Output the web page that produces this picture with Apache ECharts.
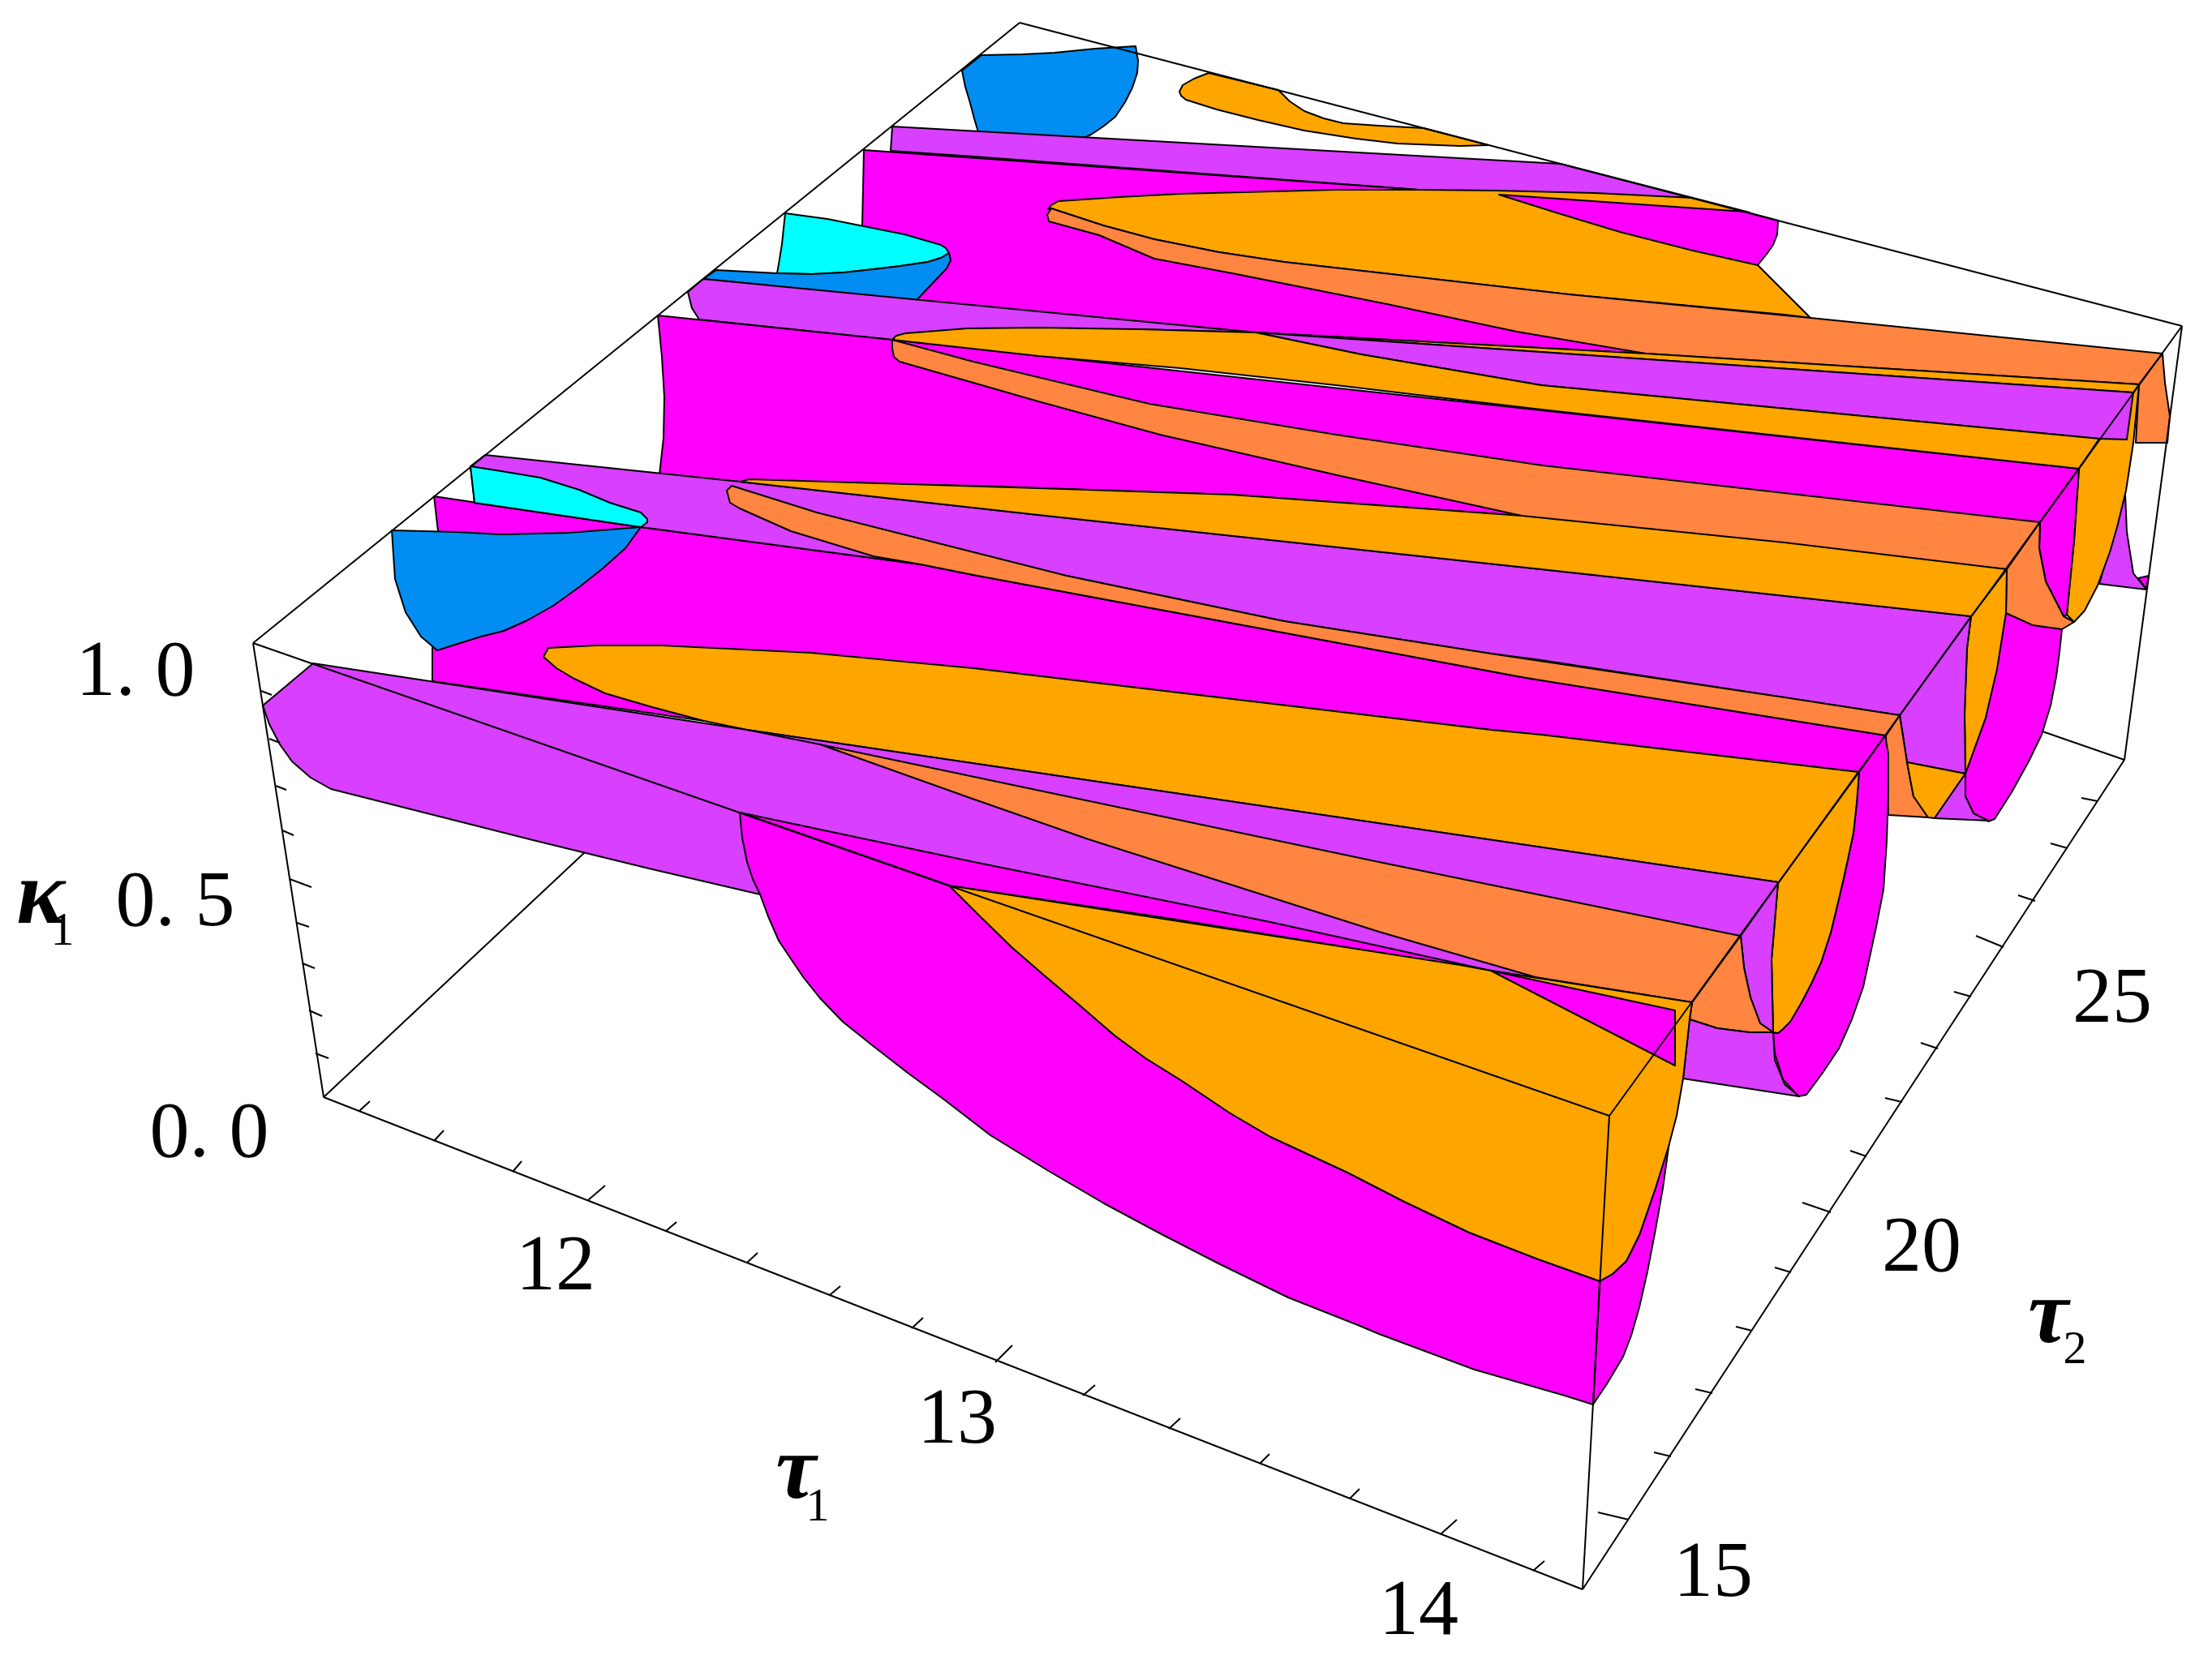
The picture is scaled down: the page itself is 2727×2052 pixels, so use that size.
<!DOCTYPE html>
<html>
<head>
<meta charset="utf-8">
<style>html,body{margin:0;padding:0;background:#fff}#c{width:2727px;height:2052px}</style>
<script src="https://cdn.jsdelivr.net/npm/echarts@6/dist/echarts.min.js"></script>
</head>
<body>
<div id="c"></div>
<script>
// Region outlines in the plane of the projected box.
const blueBack = [[1210,68],[1260,67],[1300,65],[1350,60],[1400,57],[1403,75],[1402,90],[1396,108],[1387,126],[1375,144],[1360,156],[1345,166],[1334,171],[1206,163],[1201,146],[1196,127],[1190,107],[1186,87]];
const orangeBack = [[1454,113],[1458,105],[1472,97],[1490,90],[1576,111],[1590,125],[1608,137],[1632,146],[1656,152],[1700,155],[1755,158],[1835,179],[1800,180],[1774,179],[1723,177],[1672,171],[1640,166],[1608,161],[1551,148],[1500,135],[1462,123],[1456,118]];
const purpleBack = [[1100,156],[1924,202],[2087,244],[1749,234],[1200,193],[1098,186]];
const magentaRow2 = [[1065,185],[1749,234],[1900,300],[2029,436],[1548,410],[1129,370],[1063,278]];
const cyanRear = [[968,263],[1020,270],[1065,279],[1115,289],[1160,302],[1166,306],[1170,312],[1160,318],[1144,323],[1110,328],[1077,332],[1040,336],[1001,338],[958,337],[961,320],[964,301]];
const blueMid = [[883,333],[958,337],[1001,338],[1040,336],[1077,332],[1110,328],[1144,323],[1160,318],[1170,312],[1172,321],[1167,331],[1130,370],[867,344]];
const orangeRow2 = [[1292,258],[1296,253],[1305,248],[1380,243],[1455,239],[1647,234],[1749,234],[1844,235],[1966,238],[2087,244],[2157,262],[2167,327],[2200,360],[2232,392],[2200,388],[1934,363],[1583,323],[1503,311],[1423,295],[1360,278],[1296,257]];
const magentaPatch = [[1848,240],[2151,261],[2192,272],[2191,289],[2186,302],[2179,312],[2167,327],[2087,309],[1997,286],[1921,263]];
const coralRow2 = [[1296,257],[1360,278],[1423,295],[1503,311],[1583,323],[1934,363],[2232,392],[2666,436],[2637,474],[2029,436],[1870,409],[1710,375],[1519,337],[1423,319],[1355,290],[1293,273],[1291,265]];
const coralSideRear = [[2666,436],[2669,472],[2675,513],[2672,546],[2633,546],[2637,474]];
const purpleSideRear = [[2620,610],[2622,656],[2630,707],[2646,727],[2588,720]];
const magentaSideTiny = [[2636,713],[2649,710],[2646,726]];
const orangeSideRear = [[2637,474],[2630,546],[2621,605],[2610,650],[2601,681],[2586,722],[2570,753],[2557,767],[2548,758],[2557,666],[2563,578]];
const orangeThin = [[1548,410],[2029,436],[2637,474],[2630,484]];
const purpleRow3 = [[1548,410],[2630,484],[2622,542],[2588,541],[1900,475],[1819,461],[1678,437]];
const purpleRow3Left = [[867,344],[1548,410],[1404,406],[1100,419],[862,394],[853,380],[848,360]];
const orangeRow3 = [[1100,419],[1105,414],[1116,411],[1192,405],[1280,404],[1404,406],[1548,410],[1678,437],[1819,461],[1900,475],[2588,541],[2563,578],[1900,505],[1647,475],[1455,454],[1280,439]];
const magentaRow3 = [[811,389],[1100,419],[2563,578],[2515,644],[1876,636],[1519,610],[1200,599],[912,594],[813,585],[818,540],[819,490],[816,440]];
const magentaSideRow3 = [[2563,578],[2515,644],[2514,676],[2522,717],[2544,760],[2548,758],[2557,666]];
const coralRow3 = [[1100,419],[1200,446],[1417,498],[1647,536],[1902,574],[2515,644],[2474,702],[1900,641],[1876,636],[1653,587],[1430,536],[1280,495],[1200,472],[1109,446],[1102,440],[1100,430]];
const coralSideRow3 = [[2515,644],[2474,702],[2473,756],[2506,771],[2542,776],[2557,767],[2544,760],[2522,717],[2514,676]];
const magentaSideLarge = [[2473,756],[2542,776],[2539,804],[2535,834],[2528,870],[2517,906],[2501,939],[2480,977],[2459,1010],[2451,1013],[2433,1003],[2423,982],[2423,954],[2448,885]];
const orangeSideRow4 = [[2474,702],[2473,756],[2462,825],[2448,885],[2423,954],[2422,880],[2425,799],[2430,760]];
const purpleSideRow4 = [[2430,760],[2425,799],[2422,880],[2423,954],[2351,940],[2342,882]];
const coralSideRow4 = [[2342,882],[2325,907],[2328,1005],[2377,1008],[2359,982],[2351,940]];
const orangeSideSmall = [[2351,940],[2423,954],[2385,1009],[2377,1008],[2359,982]];
const purpleSideSmall = [[2423,954],[2423,982],[2433,1003],[2451,1012],[2385,1009]];
const magentaRow4 = [[535,612],[790,650],[1135,696],[1200,709],[1876,835],[2325,907],[2291,952],[1900,906],[1838,900],[1200,824],[868,889],[533,840],[533,801],[540,655]];
const blueFront = [[483,654],[561,656],[618,659],[701,657],[790,650],[771,676],[743,701],[714,724],[682,747],[650,765],[621,778],[593,785],[561,795],[539,802],[519,785],[500,755],[487,714]];
const purpleRow4 = [[598,561],[912,594],[1280,635],[1900,702],[2430,760],[2342,882],[1900,814],[1838,806],[1583,766],[1315,710],[1135,696],[790,650],[585,620],[580,575]];
const cyanFront = [[580,575],[618,581],[666,589],[714,604],[752,620],[790,632],[798,640],[798,644],[790,650],[585,620]];
const orangeRow4 = [[912,594],[924,591],[1280,602],[1519,610],[1876,636],[2200,669],[2474,702],[2430,760],[1900,702],[1280,635]];
const coralRow4 = [[902,599],[1007,632],[1315,710],[1583,766],[1838,806],[2200,860],[2342,882],[2325,907],[1900,839],[1876,835],[1200,709],[1135,696],[1077,686],[975,655],[912,627],[900,620],[896,605]];
const orangeRow5 = [[676,799],[670,810],[686,824],[708,837],[746,855],[804,872],[868,889],[921,900],[1800,1030],[2193,1088],[2291,952],[1900,906],[1838,900],[1200,824],[1000,805],[817,796],[734,796]];
const magentaSideRight = [[2324,907],[2328,930],[2328,973],[2326,1037],[2322,1097],[2313,1143],[2297,1217],[2283,1257],[2267,1293],[2247,1323],[2227,1350],[2217,1352],[2198,1331],[2188,1299],[2186,1274],[2192,1274],[2198,1269],[2220,1238],[2233,1213],[2245,1187],[2257,1150],[2265,1117],[2273,1083],[2278,1060],[2285,1027],[2289,990],[2292,952]];
const orangeSideFrontMid = [[2292,952],[2289,990],[2285,1027],[2278,1060],[2273,1083],[2265,1117],[2257,1150],[2245,1187],[2233,1213],[2220,1238],[2207,1260],[2198,1269],[2192,1274],[2186,1273],[2184,1183],[2192,1089]];
const purpleSideMid = [[2192,1089],[2184,1183],[2186,1273],[2170,1262],[2158,1230],[2150,1193],[2146,1154]];
const coralSideMid = [[2146,1154],[2086,1236],[2083,1257],[2117,1268],[2157,1273],[2186,1273],[2170,1262],[2158,1230],[2150,1193]];
const purpleSideLow = [[2083,1257],[2075,1330],[2218,1352],[2200,1337],[2188,1307],[2186,1273],[2157,1273],[2117,1268]];
const purpleFront = [[386,818],[921,900],[1800,1030],[2193,1088],[2145,1154],[2086,1236],[1838,1197],[1170,1092],[937,1103],[800,1071],[657,1036],[408,973],[383,959],[360,939],[345,918],[332,893],[324,870]];
const coralFront = [[1011,918],[1700,1063],[2145,1154],[2086,1236],[1893,1205],[1700,1149],[1502,1086],[1342,1035],[1196,984]];
const magentaStrip = [[912,1002],[1196,1062],[1566,1137],[1838,1197],[1438,1132],[1170,1092]];
const magentaSideFront = [[1972,1580],[1988,1571],[2005,1555],[2021,1523],[2041,1465],[2058,1408],[2050,1465],[2041,1516],[2031,1568],[2021,1612],[2011,1647],[2001,1673],[1982,1705],[1964,1732]];
const orangeFront = [[1170,1092],[1800,1190],[1838,1197],[2086,1236],[2083,1257],[2075,1330],[2067,1376],[2057,1414],[2041,1465],[2021,1523],[2005,1555],[1988,1571],[1972,1580],[1896,1553],[1811,1520],[1731,1482],[1661,1446],[1566,1402],[1515,1372],[1457,1333],[1412,1305],[1374,1277],[1330,1239],[1285,1201],[1247,1168],[1208,1130]];
const magentaWedge = [[1838,1197],[2065,1246],[2065,1314]];
const magentaFront = [[912,1002],[1170,1092],[1208,1130],[1247,1168],[1285,1201],[1330,1239],[1374,1277],[1412,1305],[1457,1333],[1515,1372],[1566,1402],[1661,1446],[1731,1482],[1811,1520],[1896,1553],[1972,1580],[1964,1732],[1929,1721],[1818,1689],[1700,1645],[1674,1634],[1588,1600],[1502,1558],[1432,1522],[1361,1484],[1291,1443],[1221,1400],[1164,1356],[1119,1323],[1074,1288],[1039,1260],[1011,1231],[991,1206],[972,1178],[960,1160],[947,1130],[937,1103],[928,1084],[921,1063],[915,1033]];

// Box corners
const boxA = [312,793], boxB = [1257,28], boxC = [2690,402], boxD = [1984,1376];
const boxE = [399,1353], boxF = [1951,1960], boxG = [2619,937];
const boxEdges = [[boxE,[721,1051]],[boxG,[2518,902]],[boxA,boxB],[boxB,boxC],[boxA,boxD],[boxD,boxC],[boxA,boxE],[boxE,boxF],[boxF,boxG],[boxC,boxG],[boxD,boxF],[[921,900],[1011,918]]];

// Tick marks on the three visible axes
const kappaTicks = [[[322,852],[335,857]],[[332,911],[345,916]],[[340,969],[353,974]],[[348,1024],[362,1030]],[[357,1084],[384,1094]],[[366,1138],[381,1143]],[[373,1188],[388,1194]],[[381,1246],[397,1253]],[[389,1299],[405,1305]]];
const tau1Ticks = [[[443,1370],[456,1358]],[[535,1407],[547,1394]],[[632,1445],[643,1432]],[[725,1480],[746,1462]],[[821,1518],[834,1507]],[[921,1557],[934,1545]],[[1023,1597],[1036,1586]],[[1124,1638],[1138,1625]],[[1227,1680],[1248,1659]],[[1335,1721],[1350,1708]],[[1441,1762],[1455,1749]],[[1553,1805],[1565,1793]],[[1664,1848],[1676,1836]],[[1776,1892],[1796,1874]],[[1890,1937],[1904,1925]]];
const tau2Ticks = [[[2008,1874],[1970,1865]],[[2060,1796],[2039,1791]],[[2111,1718],[2090,1713]],[[2160,1641],[2140,1636]],[[2208,1569],[2188,1563]],[[2257,1495],[2222,1483]],[[2301,1426],[2281,1419]],[[2345,1359],[2324,1354]],[[2389,1293],[2368,1286]],[[2430,1229],[2409,1223]],[[2470,1168],[2436,1154]],[[2509,1111],[2488,1104]],[[2549,1046],[2528,1040]],[[2586,988],[2566,984]]];

// Tick labels and axis names
const tickLabels = ['1. 0','0. 5','0. 0','12','13','14','15','20','25'];
const tickLabelAnchors = [[167,861],[216,1145],[258,1430],[685,1594],[1180,1783],[1749,2019],[2112,1972],[2369,1571],[2604,1264]];
const axisNames = ['κ','τ','τ'];
const axisNameAnchors = [[50,1143],[981,1852],[2525,1660]];
const axisSubscripts = ['1','1','2'];
const axisSubscriptAnchors = [[77,1167],[1008,1877],[2558,1683]];

const PURPLE='#D83FFF', MAGENTA='#FF00FF', ORANGE='#FFA500', CORAL='#FF8540', BLUE='#028DF2', CYAN='#00FFFF';
const layers = [
 [blueBack,BLUE],[orangeBack,ORANGE],[purpleBack,PURPLE],[magentaRow2,MAGENTA],[cyanRear,CYAN],[blueMid,BLUE],
 [orangeRow2,ORANGE],[magentaPatch,MAGENTA],[coralRow2,CORAL],[coralSideRear,CORAL],[purpleSideRear,PURPLE],[magentaSideTiny,MAGENTA],
 [orangeSideRear,ORANGE],[orangeThin,ORANGE],[purpleRow3,PURPLE],[purpleRow3Left,PURPLE],[magentaRow3,MAGENTA],[orangeRow3,ORANGE],
 [magentaSideRow3,MAGENTA],[coralRow3,CORAL],[magentaSideLarge,MAGENTA],[coralSideRow3,CORAL],[orangeSideRow4,ORANGE],[purpleSideRow4,PURPLE],
 [coralSideRow4,CORAL],[orangeSideSmall,ORANGE],[purpleSideSmall,PURPLE],[magentaRow4,MAGENTA],[blueFront,BLUE],[purpleRow4,PURPLE],[cyanFront,CYAN],
 [orangeRow4,ORANGE],[coralRow4,CORAL],[magentaSideRight,MAGENTA],[orangeSideFrontMid,ORANGE],[purpleSideMid,PURPLE],[coralSideMid,CORAL],[purpleSideLow,PURPLE],
 [orangeRow5,ORANGE],[purpleFront,PURPLE],[coralFront,CORAL],[magentaStrip,MAGENTA],[magentaSideFront,MAGENTA],[orangeFront,ORANGE],[magentaWedge,MAGENTA],[magentaFront,MAGENTA]
];
const segments = boxEdges.concat(kappaTicks, tau1Ticks, tau2Ticks);

const SERIF = '"Liberation Serif","DejaVu Serif",serif';
const textItems = [];
tickLabels.forEach((t,i)=>textItems.push({text:t,at:tickLabelAnchors[i],size:98,font:'98px '+SERIF}));
axisNames.forEach((t,i)=>textItems.push({text:t,at:axisNameAnchors[i],size:112,font:'italic bold 112px '+SERIF}));
axisSubscripts.forEach((t,i)=>textItems.push({text:t,at:axisSubscriptAnchors[i],size:58,font:'58px '+SERIF}));

const chart = echarts.init(document.getElementById('c'), null, {renderer:'canvas'});
chart.setOption({
  animation:false,
  backgroundColor:'#fff',
  grid:{left:0,right:0,top:0,bottom:0},
  xAxis:{type:'value',min:0,max:2727,show:false},
  yAxis:{type:'value',min:0,max:2052,inverse:true,show:false},
  series:[
    {type:'custom',coordinateSystem:'cartesian2d',silent:true,clip:false,z:2,
     data:layers.map((_,i)=>[i]),
     renderItem:(p,api)=>{
       const l=layers[api.value(0)];
       return {type:'polygon',shape:{points:l[0].map(q=>api.coord(q))},style:{fill:l[1],stroke:'#000',lineWidth:2,lineJoin:'round'}};
     }},
    {type:'custom',coordinateSystem:'cartesian2d',silent:true,clip:false,z:3,
     data:segments.map((_,i)=>[i]),
     renderItem:(p,api)=>{
       const s=segments[api.value(0)], a=api.coord(s[0]), b=api.coord(s[1]);
       return {type:'line',shape:{x1:a[0],y1:a[1],x2:b[0],y2:b[1]},style:{stroke:'#000',lineWidth:2,fill:null}};
     }},
    {type:'custom',coordinateSystem:'cartesian2d',silent:true,clip:false,z:4,
     data:textItems.map((_,i)=>[i]),
     renderItem:(p,api)=>{
       const t=textItems[api.value(0)], c=api.coord(t.at);
       return {type:'text',style:{text:t.text,x:c[0],y:c[1]+t.size*0.2,font:t.font,fill:'#000',align:'center',verticalAlign:'bottom'}};
     }}
  ]
});
</script>
</body>
</html>
